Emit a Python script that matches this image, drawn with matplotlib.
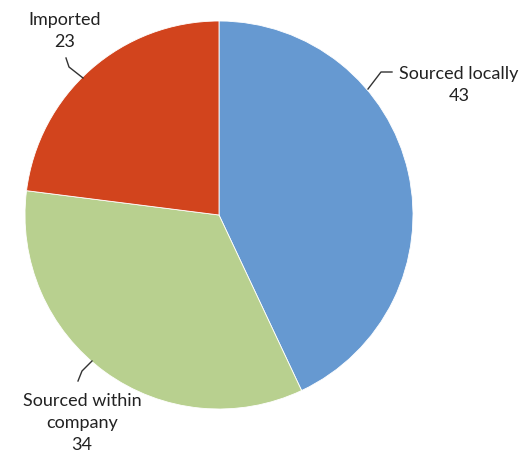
import matplotlib.pyplot as plt

# share of inputs by origin
labels = ['Sourced locally', 'Sourced within\ncompany', 'Imported']
values = [43, 34, 23]
colors = ['#6699D1', '#B8D08F', '#D2441D']

W, H = 521, 456
fig = plt.figure(figsize=(W / 100, H / 100), dpi=100)
ax = fig.add_axes([0, 0, 1, 1])

cx, cy, r = 219, H - 216, 194
ax.pie(values, colors=colors, startangle=90, counterclock=False,
       center=(cx, cy), radius=r, frame=True,
       wedgeprops=dict(edgecolor='white', linewidth=0.6))
ax.set_xlim(0, W)
ax.set_ylim(0, H)
ax.set_aspect('equal')
ax.axis('off')

# label text position (pixels from top-left) and leader line points
text_pos = [(459, 85), (82, 423), (65, 31)]
leaders = [
    [(392, 73), (381, 73), (368, 90)],
    [(78, 382), (82, 372), (92, 362)],
    [(66, 59), (69, 68), (83, 79)],
]

for lab, v, (tx, ty), pts in zip(labels, values, text_pos, leaders):
    ax.text(tx, H - ty, f'{lab}\n{v}', ha='center', va='center',
            fontsize=13, family='Lato', color='#222222', linespacing=1.45)
    xs = [p[0] for p in pts]
    ys = [H - p[1] for p in pts]
    ax.plot(xs, ys, color='#333333', linewidth=1)

fig.savefig('out.png', dpi=100)
